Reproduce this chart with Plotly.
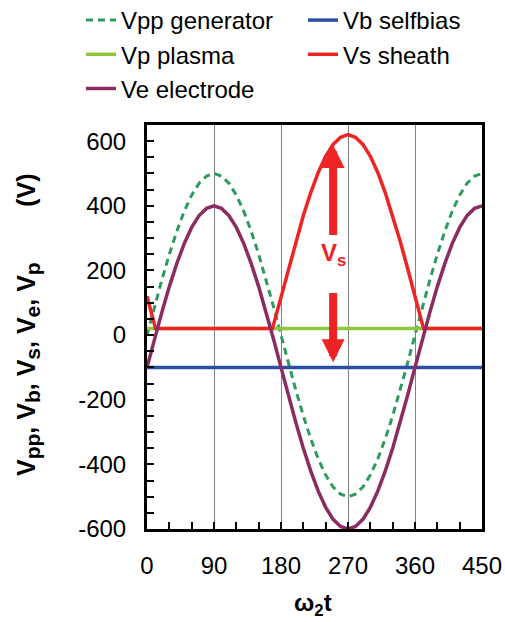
import plotly.graph_objects as go

# ---- data ----
phase = [0, 10, 20, 30, 40, 50, 60, 70, 80, 90, 100, 110, 120, 130, 140, 150, 160, 170, 180,
         190, 200, 210, 220, 230, 240, 250, 260, 270, 280, 290, 300, 310, 320, 330, 340, 350, 360,
         370, 380, 390, 400, 410, 420, 430, 440, 450]
vpp_generator = [0, 87, 171, 250, 321, 383, 433, 470, 492, 500, 492, 470, 433, 383, 321, 250, 171, 87, 0,
                 -87, -171, -250, -321, -383, -433, -470, -492, -500, -492, -470, -433, -383, -321, -250, -171, -87, 0,
                 87, 171, 250, 321, 383, 433, 470, 492, 500]
ve_electrode = [-100, -13, 71, 150, 221, 283, 333, 370, 392, 400, 392, 370, 333, 283, 221, 150, 71, -13, -100,
                -187, -271, -350, -421, -483, -533, -570, -592, -600, -592, -570, -533, -483, -421, -350, -271, -187, -100,
                -13, 71, 150, 221, 283, 333, 370, 392, 400]
vs_phase = [0, 10, 11.5, 168.5, 170, 180, 190, 200, 210, 220, 230, 240, 250, 260, 270, 280, 290, 300, 310,
            320, 330, 340, 350, 360, 370, 371.5, 450]
vs_sheath = [120, 33, 20, 20, 33, 120, 207, 291, 370, 441, 503, 553, 590, 612, 620, 612, 590, 553, 503,
             441, 370, 291, 207, 120, 33, 20, 20]
const_phase = [0, 450]
vb_selfbias = [-100, -100]
vp_plasma = [20, 20]

names = ["Vpp generator", "Vb selfbias", "Vp plasma", "Vs sheath", "Ve electrode"]
x_ticks = [0, 90, 180, 270, 360, 450]
y_ticks = [-600, -400, -200, 0, 200, 400, 600]

FONT = "Liberation Sans, Arial, sans-serif"
L, R, T, B = 147, 482, 125, 529
PW, PH = R - L, B - T

fig = go.Figure()
fig.add_trace(go.Scatter(x=phase, y=vpp_generator, mode="lines", name=names[0],
                         line=dict(color="#2e9a5e", width=3, dash="7px,5px")))
fig.add_trace(go.Scatter(x=const_phase, y=vb_selfbias, mode="lines", name=names[1],
                         line=dict(color="#2c4ea3", width=3.5)))
fig.add_trace(go.Scatter(x=const_phase, y=vp_plasma, mode="lines", name=names[2],
                         line=dict(color="#8dc63f", width=3.5)))
fig.add_trace(go.Scatter(x=vs_phase, y=vs_sheath, mode="lines", name=names[3],
                         line=dict(color="#ee2424", width=3.5)))
fig.add_trace(go.Scatter(x=phase, y=ve_electrode, mode="lines", name=names[4],
                         line=dict(color="#8b2c60", width=3.5)))

# Vs double arrow
fig.add_annotation(x=250, y=588, ax=250, ay=305, axref="x", ayref="y", xref="x", yref="y",
                   text="", showarrow=True, arrowhead=2, arrowwidth=8, arrowsize=0.575,
                   arrowcolor="#ee2424")
fig.add_annotation(x=250, y=-84, ax=250, ay=135, axref="x", ayref="y", xref="x", yref="y",
                   text="", showarrow=True, arrowhead=2, arrowwidth=8, arrowsize=0.575,
                   arrowcolor="#ee2424")
fig.add_annotation(x=250, y=250, xref="x", yref="y", showarrow=False,
                   text="<b>V<sub>s</sub></b>", font=dict(family=FONT, size=24, color="#ee2424"))

# y axis title
def sub(s):
    return "<sub><span style='font-size:21px'>" + s + "</span></sub>"

sp = "\u00a0" * 8
ytitle = ("<b>V" + sub("pp") + ", V" + sub("b") + ", V" + sub("s") + ", V" + sub("e") +
          ", V" + sub("p") + sp + "(V)</b>")
fig.add_annotation(x=(28 - L) / PW, y=(B - 325) / PH, xref="paper", yref="paper", showarrow=False,
                   xanchor="center", yanchor="middle",
                   text=ytitle, textangle=-90, font=dict(family=FONT, size=25, color="black"))
# x axis title
fig.add_annotation(x=(313 - L) / PW, y=(B - 604) / PH, xref="paper", yref="paper",
                   xanchor="center", yanchor="middle",
                   showarrow=False, text="<b>ω<sub>2</sub>t</b>",
                   font=dict(family=FONT, size=24, color="black"))

fig.update_xaxes(range=[0, 450], tickvals=x_ticks, ticktext=[str(v) for v in x_ticks],
                 ticks="inside", ticklen=7, tickwidth=2, tickcolor="black",
                 minor=dict(dtick=30, tick0=0, ticks="inside", ticklen=7, tickwidth=2, tickcolor="black", showgrid=False),
                 showgrid=True, gridcolor="#808080", gridwidth=1, zeroline=False,
                 showline=True, linecolor="black", linewidth=3, mirror=True,
                 ticklabelstandoff=13,
                 tickfont=dict(family=FONT, size=24, color="black"))
fig.update_yaxes(range=[-600, 650], tickvals=y_ticks, ticktext=[str(v) for v in y_ticks],
                 ticks="inside", ticklen=7, tickwidth=2, tickcolor="black",
                 minor=dict(dtick=50, tick0=0, ticks="inside", ticklen=7, tickwidth=2, tickcolor="black", showgrid=False),
                 showgrid=False, zeroline=False,
                 showline=True, linecolor="black", linewidth=3, mirror=True,
                 ticklabelstandoff=13,
                 tickfont=dict(family=FONT, size=24, color="black"))

fig.update_layout(
    width=505, height=622,
    margin=dict(l=L, r=505 - R, t=T, b=622 - B, autoexpand=False),
    paper_bgcolor="white", plot_bgcolor="white",
    font=dict(family=FONT, size=24, color="black"),
    showlegend=True,
    legend=dict(orientation="h", x=(81 - L) / PW, xanchor="left", y=1 + (T + 2) / PH, yanchor="top",
                entrywidth=177, entrywidthmode="pixels", traceorder="normal",
                font=dict(family=FONT, size=24, color="black"),
                bgcolor="rgba(0,0,0,0)", borderwidth=0, tracegroupgap=0),
)

fig.write_html("out.html")
